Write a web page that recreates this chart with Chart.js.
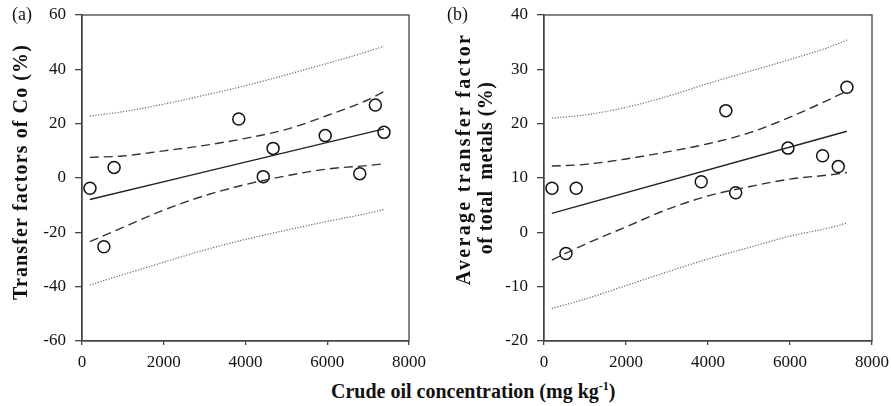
<!DOCTYPE html>
<html>
<head>
<meta charset="utf-8">
<script src="https://cdn.jsdelivr.net/npm/chart.js@4.4.1/dist/chart.umd.min.js"></script>
<style>
  html, body { margin: 0; padding: 0; background: #fff; }
  #wrap { position: relative; width: 891px; height: 406px; overflow: hidden; background: #fff; }
  canvas { position: absolute; top: 0; }
  #xt { position: absolute; left: 331px; top: 380px; font: bold 20px "Liberation Serif", "Times New Roman", serif; color: #111; white-space: pre; }
  #xt sup { font-size: 12px; vertical-align: 0; position: relative; top: -8px; }
</style>
</head>
<body>
<div id="wrap">
  <canvas id="ca" width="440" height="372" style="left:0px"></canvas>
  <canvas id="cb" width="456" height="372" style="left:440px"></canvas>
  <div id="xt">Crude oil concentration (mg kg<sup>-1</sup>)</div>
</div>
<script>
// ---------------- data ----------------
const crudeOil = [195, 535, 785, 3835, 4435, 4675, 5950, 6795, 7177, 7388];
const tfCo     = [-3.8, -25.3, 3.9, 21.7, 0.5, 10.9, 15.6, 1.6, 26.9, 16.8];
const tfTotal  = [8.1, -3.9, 8.1, 9.3, 22.4, 7.3, 15.5, 14.1, 12.1, 26.7];

const fitX     = [190, 7388];
const fitCo    = [-7.9, 18.1];
const fitTotal = [3.5, 18.6];

const bandX = [190, 1000, 2000, 3000, 4000, 5000, 6000, 7000, 7388];
const coConfUpper = [7.6, 8.1, 10.0, 12.0, 14.6, 17.9, 23.0, 28.8, 31.8];
const coConfLower = [-23.4, -18.2, -11.8, -6.5, -2.4, 0.8, 3.3, 4.6, 5.2];
const coPredUpper = [22.8, 24.4, 27.2, 30.5, 34.0, 38.0, 42.2, 46.6, 48.5];
const coPredLower = [-39.4, -35.6, -31.0, -26.5, -22.6, -19.2, -16.0, -13.0, -11.6];

const totConfUpper = [12.2, 12.5, 13.5, 14.8, 16.3, 18.3, 21.2, 24.6, 26.0];
const totConfLower = [-5.1, -2.2, 1.0, 4.2, 6.7, 8.4, 9.8, 10.6, 11.0];
const totPredUpper = [21.0, 21.6, 23.0, 25.0, 27.4, 29.6, 31.8, 34.2, 35.4];
const totPredLower = [-14.0, -12.3, -9.8, -7.3, -4.9, -2.8, -0.7, 0.9, 1.7];

const xTicks = [0, 2000, 4000, 6000, 8000];
const coTicks = [-60, -40, -20, 0, 20, 40, 60];
const totTicks = [-20, -10, 0, 10, 20, 30, 40];

const panelA = { label: '(a)', title: ['Transfer factors of Co (%)'] };
const panelB = { label: '(b)', title: ['Average transfer factor', 'of total  metals (%)'] };

// ---------------- helpers ----------------
const SERIF = '"Liberation Serif", "Times New Roman", serif';
const pts = (xs, ys) => xs.map((x, i) => ({ x: x, y: ys[i] }));

function lineDs(xs, ys, dash, color, width) {
  return {
    type: 'line', data: pts(xs, ys), showLine: true, fill: false,
    borderColor: color, borderWidth: width, borderDash: dash,
    pointRadius: 0, pointHoverRadius: 0, cubicInterpolationMode: 'monotone'
  };
}

const framePlugin = {
  id: 'frame',
  afterDraw(chart, args, opts) {
    const ctx = chart.ctx, a = chart.chartArea;
    ctx.save();
    ctx.strokeStyle = '#444';
    ctx.lineWidth = 1.3;
    ctx.strokeRect(a.left, a.top, a.right - a.left, a.bottom - a.top);
    (opts.texts || []).forEach(t => {
      ctx.save();
      ctx.font = t.font;
      ctx.fillStyle = '#111';
      ctx.textAlign = t.align || 'center';
      ctx.textBaseline = 'middle';
      if ('letterSpacing' in ctx) ctx.letterSpacing = (t.spacing || 0) + 'px';
      ctx.translate(t.x, t.y);
      if (t.rot) ctx.rotate(t.rot);
      ctx.fillText(t.text, 0, 0);
      ctx.restore();
    });
    ctx.restore();
  }
};

function makeChart(id, yVals, fitY, cu, cl, pu, pl, yTicks, yWidth, padRight, texts) {
  const yMin = yTicks[0], yMax = yTicks[yTicks.length - 1];
  return new Chart(document.getElementById(id), {
    type: 'scatter',
    data: {
      datasets: [
        lineDs(bandX, pu, [1.2, 1.6], '#666', 1.2),
        lineDs(bandX, pl, [1.2, 1.6], '#666', 1.2),
        lineDs(bandX, cu, [9, 5], '#333', 1.4),
        lineDs(bandX, cl, [9, 5], '#333', 1.4),
        lineDs(fitX, fitY, [], '#222', 1.4),
        {
          type: 'scatter', data: pts(crudeOil, yVals), showLine: false,
          pointStyle: 'circle', pointRadius: 6, pointHoverRadius: 6,
          pointBorderWidth: 1.5, pointBackgroundColor: 'rgba(255,255,255,0)',
          borderColor: '#111', pointBorderColor: '#111'
        }
      ]
    },
    options: {
      responsive: false, animation: false, devicePixelRatio: 1,
      layout: { padding: { left: 0, right: padRight, top: 15, bottom: 0 } },
      plugins: { legend: { display: false }, tooltip: { enabled: false }, frame: { texts: texts } },
      scales: {
        x: {
          type: 'linear', min: 0, max: 8000,
          afterBuildTicks: s => { s.ticks = xTicks.map(v => ({ value: v })); },
          grid: { drawOnChartArea: false, drawTicks: true, tickLength: 4, color: '#444', lineWidth: 1.3 },
          border: { display: true, color: '#444', width: 1.3 },
          ticks: { color: '#111', padding: 7, maxRotation: 0, font: { family: SERIF, size: 17 }, callback: v => String(v) },
          afterFit: s => { s.height = 31; }
        },
        y: {
          type: 'linear', min: yMin, max: yMax,
          afterBuildTicks: s => { s.ticks = yTicks.map(v => ({ value: v })); },
          grid: { drawOnChartArea: false, drawTicks: true, tickLength: 7, color: '#444', lineWidth: 1.3 },
          border: { display: true, color: '#444', width: 1.3 },
          ticks: { color: '#111', padding: 9, font: { family: SERIF, size: 17, lineHeight: 0.7 }, callback: v => String(v) },
          afterFit: s => { s.width = yWidth; }
        }
      }
    },
    plugins: [framePlugin]
  });
}

const titleFont = 'bold 20px ' + SERIF;
const labelFont = '18px ' + SERIF;

makeChart('ca', tfCo, fitCo, coConfUpper, coConfLower, coPredUpper, coPredLower, coTicks, 82, 31, [
  { text: panelA.label, x: 12, y: 15, align: 'left', font: labelFont },
  { text: panelA.title[0], x: 22, y: 172, rot: -Math.PI / 2, font: titleFont, spacing: 1.1 }
]);

makeChart('cb', tfTotal, fitTotal, totConfUpper, totConfLower, totPredUpper, totPredLower, totTicks, 104, 22, [
  { text: panelB.label, x: 7, y: 15, align: 'left', font: labelFont },
  { text: panelB.title[0], x: 25, y: 159, rot: -Math.PI / 2, font: titleFont, spacing: 2.3 },
  { text: panelB.title[1], x: 47, y: 168, rot: -Math.PI / 2, font: titleFont, spacing: 0.4 }
]);
</script>
</body>
</html>
